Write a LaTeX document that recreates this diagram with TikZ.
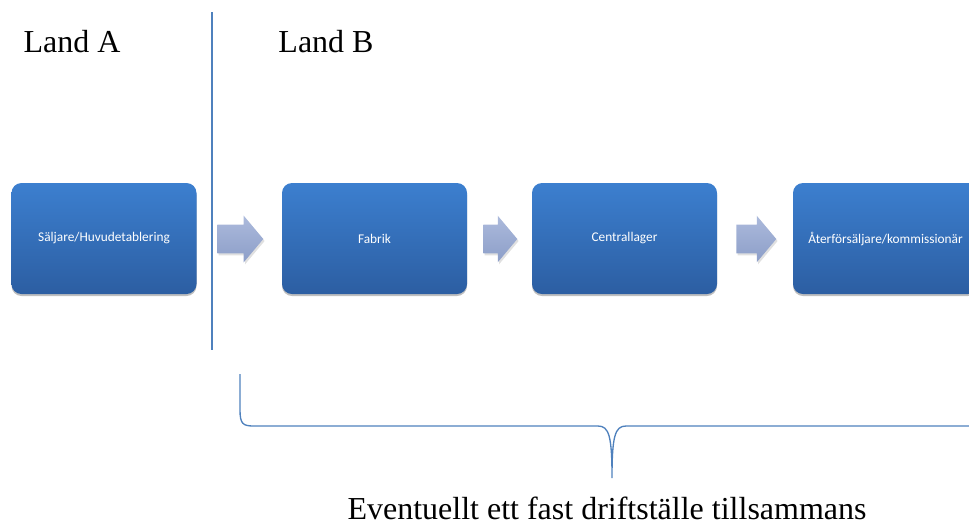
\documentclass[tikz,border=0pt]{standalone}
\usepackage{fontspec}
\setmainfont{Liberation Serif}
\newfontfamily\boxfont{Carlito}
\usetikzlibrary{shapes.arrows,shadows}
\definecolor{boxtop}{RGB}{60,127,207}
\definecolor{boxbot}{RGB}{44,94,162}
\definecolor{arrlight}{RGB}{172,186,220}
\definecolor{arrdark}{RGB}{140,158,200}
\definecolor{linjeblue}{RGB}{79,129,189}
\tikzset{
  stage/.style={rounded corners=7.5pt, minimum width=138.75pt, minimum height=83.25pt,
    top color=boxtop, bottom color=boxbot, text=white, inner sep=0pt,
    font=\boxfont\fontsize{10}{12}\selectfont,
    drop shadow={shadow xshift=0pt, shadow yshift=-1.5pt, opacity=.25, fill=black}},
  flow/.style={single arrow, anchor=tail, inner xsep=0pt, inner ysep=10.5pt,
    single arrow head extend=6.75pt, single arrow tip angle=100,
    top color=arrlight, bottom color=arrdark,
    drop shadow={shadow xshift=1pt, shadow yshift=-1.5pt, opacity=.12, fill=black}},
  land/.style={font=\fontsize{24}{28}\selectfont}
}
\begin{document}
\begin{tikzpicture}[x=0.75pt,y=-0.75pt]
    \useasboundingbox (0,0) rectangle (969,522);
    \clip (0,0) rectangle (969,522);
    \node[stage] (seller) at (104,238.5) {Säljare/Huvudetablering};
    \node[stage] (fabrik) at (374.5,238.5) {Fabrik};
    \node[stage] (lager) at (624.5,238.5) {Centrallager};
    \node[stage] (handlare) at (885.5,238.5) {Återförsäljare/kommissionär};
    \node[flow, minimum height=34.5pt] (p1) at (217,239) {};
    \node[flow, minimum height=25.5pt] (p2) at (483,239) {};
    \node[flow, minimum height=30pt] (p3) at (736,239) {};
    \draw[linjeblue, line width=1pt] (212,12) -- (212,350);
    \node[land] (landa) at (72,42) {Land A};
    \node[land] (landb) at (326,42) {Land B};
    \draw[linjeblue, line width=1pt] (240,374) -- (240,410) .. controls (240,424) and (243,426) .. (254,426)
        -- (598,426) .. controls (609,426) and (612,436) .. (612,478)
        .. controls (612,436) and (615,426) .. (626,426) -- (975,426);
    \node[land, anchor=base] (note) at (607,519) {Eventuellt ett fast driftställe tillsammans};
\end{tikzpicture}
\end{document}
